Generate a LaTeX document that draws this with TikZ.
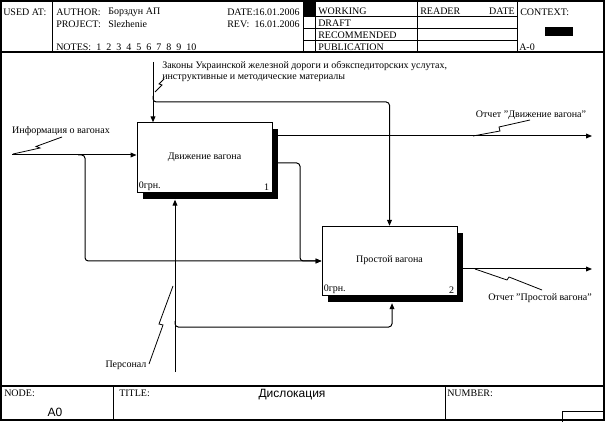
\documentclass[tikz,border=0pt]{standalone}
\usepackage{fontspec}
\setmainfont{Liberation Serif}
\newfontfamily\sansf{Liberation Sans}
\usetikzlibrary{arrows.meta,calc,shadows}
\begin{document}
\begin{tikzpicture}[x=0.75pt,y=-0.75pt,
  frame/.style={line width=0.9pt},
  thinl/.style={line width=0.75pt},
  conn/.style={line width=0.75pt, rounded corners=2.5pt},
  arr/.style={conn, -{Triangle[length=4.5pt,width=3.6pt]}},
  squig/.style={line width=0.6pt},
  txt/.style={font=\fontsize{7.5}{8.25}\selectfont, inner sep=0pt},
  hdr/.style={txt, anchor=west},
  big/.style={font=\sansf\fontsize{9}{11}\selectfont, inner sep=0pt},
  proc/.style={draw, fill=white, line width=0.75pt, minimum width=101.25pt,
    minimum height=52pt, inner sep=0pt, font=\fontsize{7.5}{9}\selectfont,
    drop shadow={shadow xshift=4.5pt, shadow yshift=-5pt, fill=black, opacity=1}}
]
\useasboundingbox (0,0) rectangle (609,423);
% frame
\draw[frame] (1,1) rectangle (604,420);
\draw[frame] (1,52) -- (604,52);
\draw[frame] (1,386) -- (604,386);
\draw[thinl] (52,1) -- (52,52);
\foreach \x in {303,315,417,517} \draw[thinl] (\x,1) -- (\x,52);
\foreach \y in {17,29,41} \draw[thinl] (303,\y) -- (517,\y);
\fill (303,1) rectangle (315,17);
\fill (545,27) rectangle (573,36);
\draw[thinl] (113,386) -- (113,420);
\draw[thinl] (445,386) -- (445,420);
\draw[thinl] (562,422) -- (562,411) -- (604,411);
% header texts
\node[hdr] (h1) at (3,12) {USED AT:};
\node[hdr] (h2) at (56,12) {AUTHOR:};
\node[hdr] (h3) at (108,12) {Борздун АП};
\node[hdr] (h4) at (56,24) {PROJECT:};
\node[hdr] (h5) at (108,24) {Slezhenie};
\node[hdr] (h6) at (56,47) {NOTES:\enspace 1\enspace 2\enspace 3\enspace 4\enspace 5\enspace 6\enspace 7\enspace 8\enspace 9\enspace 10};
\node[hdr] (h7) at (227,12) {DATE:};
\node[txt, anchor=east] (h8) at (300,12) {16.01.2006};
\node[hdr] (h9) at (227,24) {REV:};
\node[txt, anchor=east] (h10) at (300,24) {16.01.2006};
\node[hdr] (s1) at (318,11) {WORKING};
\node[hdr] (s2) at (318,23) {DRAFT};
\node[hdr] (s3) at (318,35) {RECOMMENDED};
\node[hdr] (s4) at (318,47) {PUBLICATION};
\node[hdr] (r1) at (420,11) {READER};
\node[txt, anchor=east] (r2) at (515,11) {DATE};
\node[hdr] (c1t) at (520,12) {CONTEXT:};
\node[hdr] (c2t) at (519,47) {A-0};
% footer texts
\node[hdr] (f1) at (4,393) {NODE:};
\node[big] (f2) at (55,412) {A0};
\node[hdr] (f3) at (119,393) {TITLE:};
\node[big] (f4) at (292,395) {Дислокация};
\node[hdr] (f5) at (447,393) {NUMBER:};
% boxes
\node[proc] (b1) at (204.5,157.5) {\raisebox{2.5pt}{Движение вагона}};
\node[proc] (b2) at (389.5,261) {\raisebox{3.5pt}{Простой вагона}};
\node[txt, anchor=south west] (b1a) at ($(b1.south west)+(2,-2)$) {0грн.};
\node[txt, anchor=south east] (b1b) at ($(b1.south east)+(-3,-2)$) {1};
\node[txt, anchor=south west] (b2a) at ($(b2.south west)+(2,-2)$) {0грн.};
\node[txt, anchor=south east] (b2b) at ($(b2.south east)+(-3,-2)$) {2};
% coordinates
\coordinate (inS) at (12,155);
\coordinate (j1) at (78,155);
\coordinate (c1) at (153,62);
\coordinate (cb) at (153,96);
\coordinate (m1) at (175,372);
\coordinate (mb) at (175,321);
\coordinate (o1) at (592,136);
\coordinate (o1b) at (300,163);
\coordinate (o2) at (592,269);
% connectors
\draw[arr] (inS) -- (inS -| b1.west);
\draw[arr] (j1) -- (85,155) -- (85,261) -- (b2.west);
\draw[arr] (o1b -| b1.east) -- (o1b) -- (300,261) -- (b2.west);
\draw[arr] (c1) -- (c1 |- b1.north);
\draw[arr] (cb) -- (153,102) -- (389.5,102) -- (b2.north);
\draw[arr] (m1) -- ($(m1 |- b1.south)+(0,7)$);
\draw[arr] (mb) -- (175,327) -- (392,327) -- ($(b2.south)+(2.5,7)$);
\draw[arr] (o1 -| b1.east) -- (o1);
\draw[arr] (o2 -| b2.east) -- (o2);
% labels
\node[txt] (lin) at (61,131) {Информация о вагонах};
\draw[squig] (13,154) -- (40,148) -- (36,146.5) -- (62,137);
\node[txt, anchor=north west, align=left] (lctl) at (162,61) {Законы Украинской железной дороги и обэкспедиторских услутах,\\инструктивные и методические материалы};
\draw[squig] (155,92) -- (162,85) -- (159,84) -- (164,79);
\node[txt] (lo1) at (531,115) {Отчет "Движение вагона"};
\draw[squig] (473,136) -- (500,131) -- (499,127) -- (530,120);
\node[txt] (lo2) at (540,298) {Отчет "Простой вагона"};
\draw[squig] (475,269) -- (507,280) -- (509,277) -- (542,290);
\node[txt] (lm) at (126,365) {Персонал};
\draw[squig] (149,364) -- (163,325) -- (159,324) -- (173,286);
\end{tikzpicture}
\end{document}
